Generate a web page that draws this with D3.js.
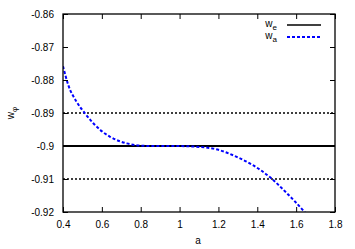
<!DOCTYPE html>
<html><head><meta charset="utf-8">
<script src="https://cdn.jsdelivr.net/npm/d3@7"></script>
<style>body{margin:0;background:#fff}svg{display:block}text{font-family:"Liberation Sans",Arial,sans-serif;font-size:10px;fill:#000}</style>
</head><body><svg id="c" width="355" height="249"></svg>
<script>
const xTicks = [0.4,0.6,0.8,1.0,1.2,1.4,1.6,1.8];
const yTicks = [-0.86,-0.87,-0.88,-0.89,-0.9,-0.91,-0.92];
const weValue = -0.9;
const dottedLevels = [-0.89,-0.91];
const waA = [0.4,0.427,0.47,0.513,0.556,0.599,0.642,0.685,0.728,0.77,0.85,0.95,1.05,1.105,1.174,1.208,1.294,1.38,1.466,1.552,1.637,1.66];
const waV = [-0.8758,-0.8815,-0.8866,-0.8901,-0.8931,-0.8955,-0.8972,-0.8984,-0.8992,-0.8997,-0.9,-0.9,-0.9001,-0.9003,-0.9008,-0.9013,-0.9033,-0.9059,-0.9095,-0.9143,-0.9196,-0.9212];

(function(){
const svg = d3.select('#c');
const L=63,R=335,T=14,B=212;
const x = d3.scaleLinear().domain([0.4,1.8]).range([L,R]);
const y = d3.scaleLinear().domain([-0.92,-0.86]).range([B,T]);

svg.append('clipPath').attr('id','clip').append('rect').attr('x',L).attr('y',T).attr('width',R-L).attr('height',B-T);
const g = svg.append('g').attr('clip-path','url(#clip)');

g.selectAll('line.dot').data(dottedLevels).join('line')
 .attr('x1',L).attr('x2',R).attr('y1',d=>y(d)).attr('y2',d=>y(d))
 .attr('stroke','#000').attr('stroke-width',1.5).attr('stroke-dasharray','2,2');

g.append('line').attr('x1',L).attr('x2',R).attr('y1',y(weValue)).attr('y2',y(weValue))
 .attr('stroke','#000').attr('stroke-width',1.8);

const pts = waA.map((a,i)=>[a,waV[i]]);
g.append('path').datum(pts)
 .attr('d',d3.line().x(d=>x(d[0])).y(d=>y(d[1])).curve(d3.curveMonotoneX))
 .attr('fill','none').attr('stroke','#0000ff').attr('stroke-width',2).attr('stroke-dasharray','3,2');

const fmt = d=>String(+d.toFixed(2));
const ax = (axis, tr)=>svg.append('g').attr('transform',tr).call(axis).call(s=>s.select('.domain').remove());
ax(d3.axisBottom(x).tickValues(xTicks).tickSizeInner(-5).tickSizeOuter(0).tickPadding(9).tickFormat(fmt),`translate(0,${B})`);
ax(d3.axisTop(x).tickValues(xTicks).tickSizeInner(-5).tickSizeOuter(0).tickFormat(''),`translate(0,${T})`);
ax(d3.axisLeft(y).tickValues(yTicks).tickSizeInner(-5).tickSizeOuter(0).tickPadding(9).tickFormat(fmt),`translate(${L},0)`);
ax(d3.axisRight(y).tickValues(yTicks).tickSizeInner(-5).tickSizeOuter(0).tickFormat(''),`translate(${R},0)`);
svg.selectAll('.tick line').attr('stroke','#000').attr('stroke-width',1);
svg.selectAll('.tick text').style('font-family','"Liberation Sans",Arial,sans-serif').style('font-size','10px').attr('fill','#000');

svg.append('rect').attr('x',L).attr('y',T).attr('width',R-L).attr('height',B-T)
 .attr('fill','none').attr('stroke','#000').attr('stroke-width',1.3);

svg.append('text').attr('x',198).attr('y',244).attr('text-anchor','middle').text('a');
const yl = svg.append('text').attr('transform','translate(14,113) rotate(-90)').attr('text-anchor','middle');
yl.append('tspan').text('w');
yl.append('tspan').attr('dy',3).style('font-size','8px').text('φ');

const leg = [{n:'e',c:'#000',d:null,w:1.6},{n:'a',c:'#0000ff',d:'3,2',w:2}];
leg.forEach((l,i)=>{
  const yy = 25 + i*12;
  const t = svg.append('text').attr('x',277).attr('y',yy+2).attr('text-anchor','end');
  t.append('tspan').text('w');
  t.append('tspan').attr('dy',3).style('font-size','8px').text(l.n);
  svg.append('line').attr('x1',287).attr('x2',321).attr('y1',yy).attr('y2',yy)
   .attr('stroke',l.c).attr('stroke-width',l.w).attr('stroke-dasharray',l.d);
});
})();
</script></body></html>
